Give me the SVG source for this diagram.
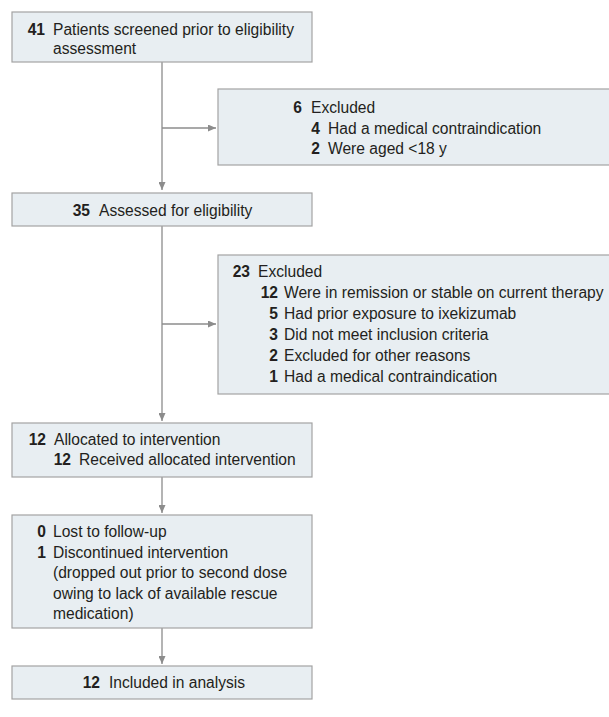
<svg xmlns="http://www.w3.org/2000/svg" width="609" height="717" viewBox="0 0 609 717">
<style>
.box{fill:#e8eef2;stroke:#a3a3a3;stroke-width:1.2}
text{font-family:"Liberation Sans",Arial,sans-serif;font-size:15.6px;fill:#231f20}
.n{font-weight:bold;text-anchor:end}
.ln{stroke:#8c8c8c;stroke-width:1.3;fill:none}
</style>
<defs>
<marker id="ah" markerWidth="8" markerHeight="7" refX="8" refY="3.5" orient="auto" markerUnits="userSpaceOnUse">
<path d="M0,0 L8,3.5 L0,7 Z" fill="#8c8c8c"/>
</marker>
</defs>
<rect width="609" height="717" fill="#ffffff"/>
<g id="connectors">
<line class="ln" x1="162" y1="62" x2="162" y2="190" marker-end="url(#ah)"/>
<line class="ln" x1="162" y1="128" x2="216" y2="128" marker-end="url(#ah)"/>
<line class="ln" x1="162" y1="226" x2="162" y2="421" marker-end="url(#ah)"/>
<line class="ln" x1="162" y1="324" x2="216" y2="324" marker-end="url(#ah)"/>
<line class="ln" x1="162" y1="477" x2="162" y2="513" marker-end="url(#ah)"/>
<line class="ln" x1="162" y1="628" x2="162" y2="664" marker-end="url(#ah)"/>
</g>
<g id="screened">
<rect class="box" x="12" y="12" width="300" height="50"/>
<text class="n" x="45" y="34.5">41</text>
<text x="53" y="34.5">Patients screened prior to eligibility</text>
<text x="53" y="53.5">assessment</text>
</g>
<g id="excluded1">
<rect class="box" x="218" y="89" width="393" height="76"/>
<text class="n" x="302" y="113">6</text>
<text x="311" y="113">Excluded</text>
<text class="n" x="320" y="133.5">4</text>
<text x="328" y="133.5">Had a medical contraindication</text>
<text class="n" x="320" y="154">2</text>
<text x="328" y="154">Were aged &lt;18 y</text>
</g>
<g id="assessed">
<rect class="box" x="12" y="193" width="300" height="33"/>
<text class="n" x="90" y="215.5">35</text>
<text x="99" y="215.5">Assessed for eligibility</text>
</g>
<g id="excluded2">
<rect class="box" x="218" y="255" width="393" height="139"/>
<text class="n" x="250" y="276.5">23</text>
<text x="258" y="276.5">Excluded</text>
<text class="n" x="278" y="297.5">12</text>
<text x="284" y="297.5">Were in remission or stable on current therapy</text>
<text class="n" x="278" y="318.5">5</text>
<text x="284" y="318.5">Had prior exposure to ixekizumab</text>
<text class="n" x="278" y="339.5">3</text>
<text x="284" y="339.5">Did not meet inclusion criteria</text>
<text class="n" x="278" y="360.5">2</text>
<text x="284" y="360.5">Excluded for other reasons</text>
<text class="n" x="278" y="381.5">1</text>
<text x="284" y="381.5">Had a medical contraindication</text>
</g>
<g id="allocated">
<rect class="box" x="12" y="423" width="300" height="54"/>
<text class="n" x="46" y="445">12</text>
<text x="54" y="445">Allocated to intervention</text>
<text class="n" x="71" y="465">12</text>
<text x="79" y="465">Received allocated intervention</text>
</g>
<g id="followup">
<rect class="box" x="12" y="515" width="300" height="113"/>
<text class="n" x="46" y="537">0</text>
<text x="53" y="537">Lost to follow-up</text>
<text class="n" x="46" y="557.5">1</text>
<text x="53" y="557.5">Discontinued intervention</text>
<text x="53" y="578">(dropped out prior to second dose</text>
<text x="53" y="598.5">owing to lack of available rescue</text>
<text x="53" y="619">medication)</text>
</g>
<g id="analysis">
<rect class="box" x="12" y="666" width="300" height="33"/>
<text class="n" x="100" y="688">12</text>
<text x="109" y="688">Included in analysis</text>
</g>
</svg>
